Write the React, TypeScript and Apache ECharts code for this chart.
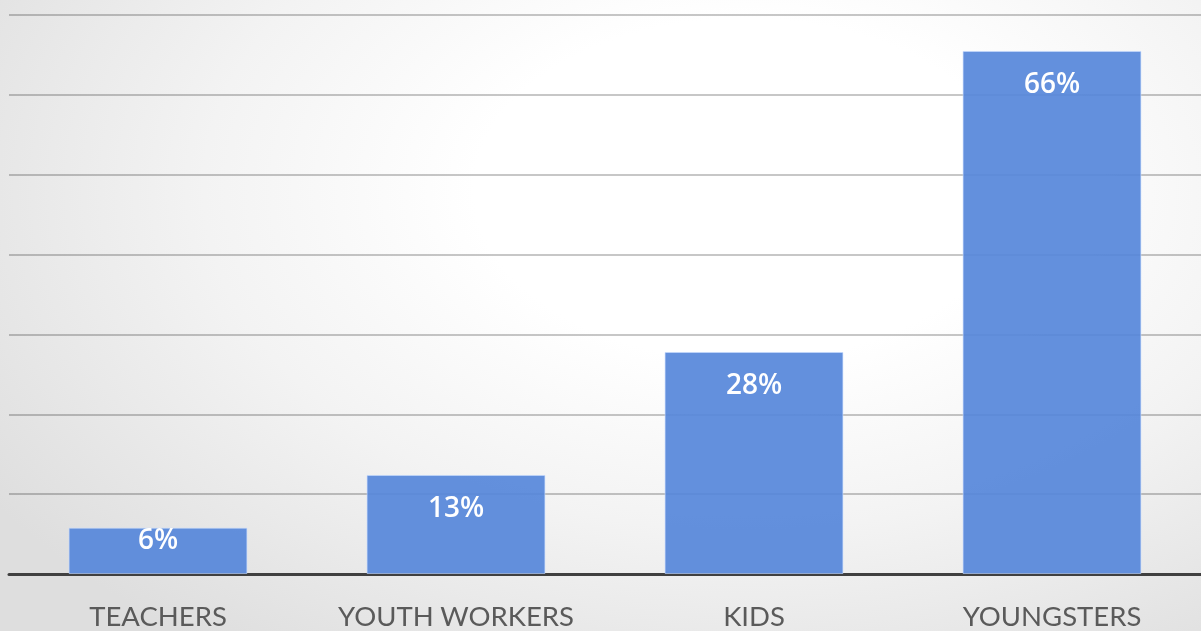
import React, { useEffect, useRef } from "react";
import * as echarts from "echarts";

const categories = ["TEACHERS", "YOUTH WORKERS", "KIDS", "YOUNGSTERS"];
const values = [5.8, 12.4, 27.8, 65.5];
const valueLabels = ["6%", "13%", "28%", "66%"];
const labelDistances = [-4, 17, 17, 17];

export default function App() {
  const ref = useRef<HTMLDivElement>(null);
  useEffect(() => {
    const chart = echarts.init(ref.current!, null, { renderer: "svg" });
    chart.setOption({
      animation: false,
      backgroundColor: "transparent",
      grid: { left: 9, right: 0, top: 15, bottom: 57, containLabel: false },
      xAxis: {
        type: "category",
        data: categories,
        axisLine: { show: true, lineStyle: { color: "#404040", width: 3 } },
        axisTick: { show: false },
        axisLabel: {
          interval: 0,
          color: "#5a5a5a",
          fontFamily: "Lato",
          fontSize: 27.5,
          lineHeight: 26,
          margin: 28,
        },
      },
      yAxis: {
        type: "value",
        min: 0,
        max: 70,
        interval: 10,
        axisLabel: { show: false },
        axisLine: { show: false },
        axisTick: { show: false },
        splitLine: { lineStyle: { color: "rgba(0,0,0,0.22)", width: 2 } },
      },
      series: [
        {
          type: "bar",
          barWidth: "60%",
          z: 3,
          data: values.map((v, i) => ({
            value: v,
            label: {
              show: true,
              position: "insideTop",
              distance: labelDistances[i],
              formatter: () => valueLabels[i],
              color: "#ffffff",
              fontFamily: "Open Sans",
              fontWeight: 600,
              fontSize: 28,
            },
          })),
          itemStyle: {
            color: "rgba(86,135,218,0.92)",
            borderColor: "rgba(200,220,255,0.6)",
            borderWidth: 1,
          },
        },
      ],
    });
    return () => chart.dispose();
  }, []);
  return (
    <div
      style={{
        position: "fixed",
        left: 0,
        top: 0,
        width: 1201,
        height: 631,
        background:
          "radial-gradient(ellipse 75% 90% at 62% 30%, #ffffff 0%, #ffffff 30%, #f3f3f3 60%, #dedede 100%)",
      }}
    >
      <div ref={ref} style={{ width: 1201, height: 631 }} />
    </div>
  );
}
